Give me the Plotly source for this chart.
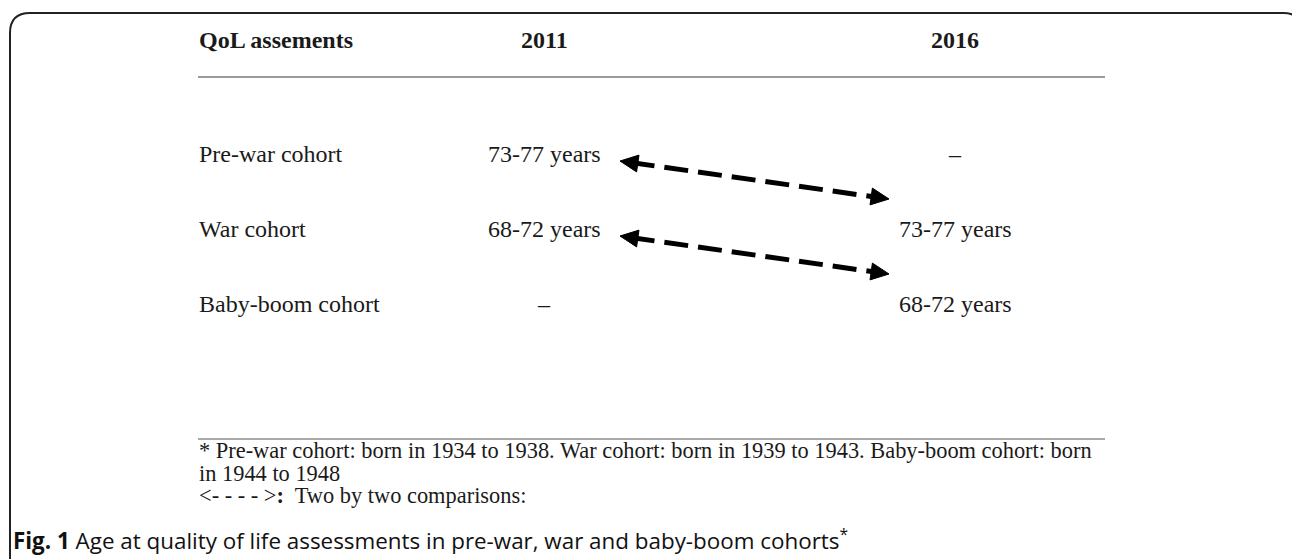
import math
import plotly.graph_objects as go

# ---- data ----
header_labels = ["QoL assements", "2011", "2016"]
cohorts = ["Pre-war cohort", "War cohort", "Baby-boom cohort"]
ages_2011 = ["73-77 years", "68-72 years", "–"]
ages_2016 = ["–", "73-77 years", "68-72 years"]
# two by two comparisons: (cohort measured in 2011, cohort measured in 2016)
comparisons = [("Pre-war cohort", "War cohort"), ("War cohort", "Baby-boom cohort")]
footnote_lines = [
    "* Pre-war cohort: born in 1934 to 1938. War cohort: born in 1939 to 1943. Baby-boom cohort: born",
    "in 1944 to 1948",
    "&lt;- - - - &gt;<b>:</b>  Two by two comparisons:",
]
caption_bold = "Fig. 1"
caption_text = " Age at quality of life assessments in pre-war, war and baby-boom cohorts<sup>*</sup>"

# ---- layout constants (pixels) ----
W, H = 1292, 559
SERIF = "Liberation Serif, Times New Roman, serif"
SANS = "Open Sans, Noto Sans, sans-serif"
INK = "#1a1a1a"
X_LABEL = 198
X_COL = {"2011": 544, "2016": 955}
HEADER_BASE = 48
ROW_BASE = [162, 237, 312]
FOOT_BASE = [458, 481, 503]
CAPTION_BASE = 548
TABLE_RIGHT = 1105
BODY_SIZE = 24
FOOT_SIZE = 22.4
CAPTION_SIZE = 22.4


def mid(baseline, size, k=0.34):
    return baseline - k * size


annotations = []


def text(x, baseline, s, size, family=SERIF, anchor="left", k=0.34, color=INK):
    annotations.append(dict(
        x=x, y=mid(baseline, size, k), xref="x", yref="y", text=s, showarrow=False,
        xanchor=anchor, yanchor="middle", font=dict(family=family, size=size, color=color),
        borderpad=0,
    ))


# header
text(X_LABEL, HEADER_BASE, "<b>%s</b>" % header_labels[0], BODY_SIZE)
text(X_COL["2011"], HEADER_BASE, "<b>%s</b>" % header_labels[1], BODY_SIZE, anchor="center")
text(X_COL["2016"], HEADER_BASE, "<b>%s</b>" % header_labels[2], BODY_SIZE, anchor="center")

# rows
for i, c in enumerate(cohorts):
    text(X_LABEL, ROW_BASE[i], c, BODY_SIZE)
    text(X_COL["2011"], ROW_BASE[i], ages_2011[i], BODY_SIZE, anchor="center")
    text(X_COL["2016"], ROW_BASE[i], ages_2016[i], BODY_SIZE, anchor="center")

# footnotes
for i, line in enumerate(footnote_lines):
    text(X_LABEL, FOOT_BASE[i], line, FOOT_SIZE)

# caption
text(12, CAPTION_BASE, "<b>%s</b>%s" % (caption_bold, caption_text), CAPTION_SIZE,
     family=SANS, k=0.39, color="#111")

shapes = []
# frame with rounded corners
shapes.append(dict(type="path", xref="x", yref="y",
                   path="M 10 562 L 10 33 Q 10 13 30 13 L 1283 13 Q 1303 13 1303 33",
                   line=dict(color="#222", width=2)))
# table rules
shapes.append(dict(type="line", xref="x", yref="y", x0=X_LABEL, x1=TABLE_RIGHT, y0=77, y1=77,
                   line=dict(color="#9a9a9a", width=2)))
shapes.append(dict(type="line", xref="x", yref="y", x0=X_LABEL, x1=TABLE_RIGHT, y0=439, y1=439,
                   line=dict(color="#555", width=1)))

# dashed double-headed arrows
HEAD_L, HEAD_W = 18, 8.5
for a, b in comparisons:
    i0, i1 = cohorts.index(a), cohorts.index(b)
    x0, y0 = X_COL["2011"] + 76, ROW_BASE[i0] - 1
    x1, y1 = X_COL["2016"] - 66, ROW_BASE[i1] - 38
    L = math.hypot(x1 - x0, y1 - y0)
    ux, uy = (x1 - x0) / L, (y1 - y0) / L
    nx, ny = -uy, ux
    shapes.append(dict(type="line", xref="x", yref="y",
                       x0=x0 + ux * HEAD_L * 0.6, y0=y0 + uy * HEAD_L * 0.6,
                       x1=x1 - ux * HEAD_L * 0.6, y1=y1 - uy * HEAD_L * 0.6,
                       line=dict(color="#000", width=5, dash="24px,10px")))
    for (tx, ty, d) in [(x0, y0, 1), (x1, y1, -1)]:
        bx, by = tx + d * ux * HEAD_L, ty + d * uy * HEAD_L
        p = "M %.1f %.1f L %.1f %.1f L %.1f %.1f Z" % (
            tx, ty, bx + nx * HEAD_W, by + ny * HEAD_W, bx - nx * HEAD_W, by - ny * HEAD_W)
        shapes.append(dict(type="path", xref="x", yref="y", path=p,
                           fillcolor="#000", line=dict(color="#000", width=1)))

fig = go.Figure()
fig.update_layout(
    width=W, height=H, margin=dict(l=0, r=0, t=0, b=0),
    paper_bgcolor="white", plot_bgcolor="white",
    xaxis=dict(range=[0, W], visible=False, fixedrange=True),
    yaxis=dict(range=[H, 0], visible=False, fixedrange=True),
    showlegend=False, annotations=annotations, shapes=shapes,
)
fig.write_html("out.html", config={"displayModeBar": False},
               post_script="document.body.style.margin='0px';document.body.style.overflow='hidden';")
